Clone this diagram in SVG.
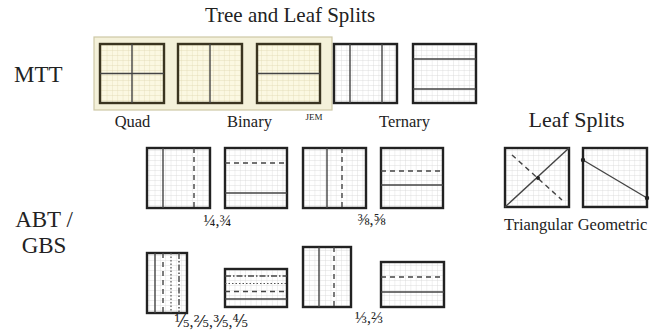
<svg xmlns="http://www.w3.org/2000/svg" width="662" height="333" viewBox="0 0 662 333">
<style>
text{font-family:"Liberation Serif","DejaVu Serif",serif;fill:#222}
.sq{fill:url(#grid);stroke:#222;stroke-width:2.4}
.tsq{fill:url(#tgrid);stroke:#3a3420;stroke-width:2.4}
.s{stroke:#444;stroke-width:1.4;fill:none}
.d{stroke:#444;stroke-width:1.4;fill:none;stroke-dasharray:5 4}
.dt{stroke:#555;stroke-width:1.2;fill:none;stroke-dasharray:1.5 2}
.dd{stroke:#444;stroke-width:1.4;fill:none;stroke-dasharray:6 2 1.5 2}
.lbl{font-size:16.5px}
.fr{font-size:16px}
</style>
<defs>
<pattern id="grid" width="5.33" height="5" patternUnits="userSpaceOnUse">
<path d="M0 0H5.33M0 0V5" stroke="#d6d6d6" stroke-width="0.8" fill="none"/>
</pattern>
<pattern id="tgrid" width="5.33" height="5" patternUnits="userSpaceOnUse">
<rect width="5.33" height="5" fill="#fbf8e2"/>
<path d="M0 0H5.33M0 0V5" stroke="#e0d8b2" stroke-width="0.8" fill="none"/>
</pattern>
</defs>
<rect width="662" height="333" fill="#fff"/>
<text x="290" y="22" text-anchor="middle" style="font-size:21px">Tree and Leaf Splits</text>
<text x="14" y="82" style="font-size:23px">MTT</text>
<text x="44" y="227" text-anchor="middle" style="font-size:23px">ABT /</text>
<text x="44" y="253" text-anchor="middle" style="font-size:23px">GBS</text>
<text x="576.5" y="127" text-anchor="middle" style="font-size:22px">Leaf Splits</text>

<rect x="94" y="37" width="238" height="73" fill="#f4f1da" stroke="#cdc8a6" stroke-width="1.2"/>

<g id="quad">
<rect class="tsq" x="100" y="44" width="64" height="59"/>
<path class="s" d="M132 44V103M100 73.5H164"/>
<text class="lbl" x="132.5" y="127" text-anchor="middle">Quad</text>
</g>
<g id="binary-v">
<rect class="tsq" x="178" y="44" width="64" height="59"/>
<path class="s" d="M210 44V103"/>
<text class="lbl" x="249.5" y="127" text-anchor="middle">Binary</text>
</g>
<g id="binary-h">
<rect class="tsq" x="257" y="44" width="63" height="59"/>
<path class="s" d="M257 73.5H320"/>
<text x="314" y="120" text-anchor="middle" style="font-size:9px">JEM</text>
</g>
<g id="ternary-v">
<rect class="sq" x="334" y="44" width="63" height="59"/>
<path class="s" d="M350 44V103M382 44V103"/>
<text class="lbl" x="404.5" y="127" text-anchor="middle">Ternary</text>
</g>
<g id="ternary-h">
<rect class="sq" x="413" y="44" width="63" height="59"/>
<path class="s" d="M413 59H476M413 89H476"/>
</g>

<g id="abt-quarter-v">
<rect class="sq" x="147" y="148" width="63" height="60"/>
<path class="s" d="M163 148V208"/>
<path class="d" d="M194 148V208"/>
</g>
<g id="abt-quarter-h">
<rect class="sq" x="225" y="148" width="62" height="60"/>
<path class="d" d="M225 163H287"/>
<path class="s" d="M225 193H287"/>
<text class="fr" x="217.5" y="226" text-anchor="middle">¼,¾</text>
</g>
<g id="abt-eighth-v">
<rect class="sq" x="303" y="148" width="63" height="60"/>
<path class="s" d="M327 148V208"/>
<path class="d" d="M342 148V208"/>
</g>
<g id="abt-eighth-h">
<rect class="sq" x="381" y="148" width="62" height="60"/>
<path class="d" d="M381 171H443"/>
<path class="s" d="M381 185H443"/>
<text class="fr" x="371.5" y="225" text-anchor="middle">⅜,⅝</text>
</g>

<g id="abt-fifth-v">
<rect class="sq" x="147" y="253" width="40" height="60"/>
<path class="s" d="M155 253V313"/>
<path class="d" d="M163 253V313"/>
<path class="dt" d="M171 253V313"/>
<path class="dd" d="M179 253V313"/>
</g>
<g id="abt-fifth-h">
<rect class="sq" x="225" y="269" width="62" height="38"/>
<path class="dd" d="M225 276H287"/>
<path class="dt" d="M225 283.5H287"/>
<path class="d" d="M225 291.5H287"/>
<path class="s" d="M225 299H287"/>
<text class="fr" x="211" y="327" text-anchor="middle">⅕,⅖,⅗,⅘</text>
</g>
<g id="abt-third-v">
<rect class="sq" x="303" y="247" width="48" height="60"/>
<path class="s" d="M319 247V307"/>
<path class="d" d="M334 247V307"/>
</g>
<g id="abt-third-h">
<rect class="sq" x="381" y="262" width="63" height="45"/>
<path class="d" d="M381 277H444"/>
<path class="s" d="M381 292H444"/>
<text class="fr" x="369" y="323" text-anchor="middle">⅓,⅔</text>
</g>

<g id="triangular">
<rect class="sq" x="505" y="148" width="64" height="59"/>
<path class="s" d="M505 207L569 148"/>
<path class="d" d="M512 155L562 200"/>
<circle cx="538" cy="178" r="2" fill="#222"/>
<text class="lbl" x="538.5" y="230" text-anchor="middle">Triangular</text>
</g>
<g id="geometric">
<rect class="sq" x="583" y="148" width="64" height="59"/>
<path class="s" d="M583 160L647 198"/>
<circle cx="583" cy="160" r="2.2" fill="#222"/>
<circle cx="647" cy="198" r="2.2" fill="#222"/>
<text class="lbl" x="612.5" y="230" text-anchor="middle">Geometric</text>
</g>
<g id="connectors"/>
</svg>
